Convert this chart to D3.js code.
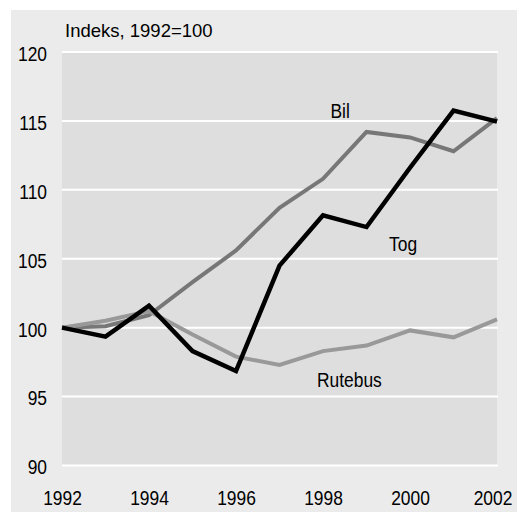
<!DOCTYPE html>
<html><head><meta charset="utf-8">
<script src="https://cdn.jsdelivr.net/npm/d3@7"></script>
<style>body{margin:0;background:#fff;} svg{display:block;}</style>
</head><body>
<script>
const years = [1992,1993,1994,1995,1996,1997,1998,1999,2000,2001,2002];
const bil = [100,100.1,100.9,103.3,105.6,108.7,110.8,114.2,113.8,112.8,115.2];
const rutebus = [100,100.5,101.2,99.5,97.9,97.3,98.3,98.7,99.8,99.3,100.6];
const tog = [100,99.35,101.6,98.3,96.85,104.5,108.15,107.3,111.6,115.75,114.95];
const yTicks = [90,95,100,105,110,115,120];
const xTicks = [1992,1994,1996,1998,2000,2002];
const yTitle = "Indeks, 1992=100";
const seriesNames = ["Bil","Tog","Rutebus"];

const W = 517, H = 512;
const font = "'Liberation Sans', Arial, sans-serif";
const condense = sel => sel.each(function(){
  const len = this.getComputedTextLength();
  d3.select(this).attr("textLength", len*0.87).attr("lengthAdjust","spacingAndGlyphs");
});
const svg = d3.select("body").append("svg").attr("width",W).attr("height",H);
svg.append("rect").attr("x",11).attr("y",10).attr("width",W-11).attr("height",H-10).attr("fill","#ebebeb");

const x = d3.scaleLinear().domain([1992,2002]).range([62,497]);
const y = d3.scaleLinear().domain([90,120]).range([465.5,52]);

svg.append("rect").attr("x",x(1992)).attr("y",y(120)).attr("width",x(2002)-x(1992)).attr("height",y(90)-y(120)).attr("fill","#dedede");

// gridlines
svg.append("g").selectAll("line").data(yTicks).join("line")
  .attr("x1",x(1992)).attr("x2",x(2002)+1).attr("y1",d=>y(d)).attr("y2",d=>y(d))
  .attr("stroke","#fff").attr("stroke-width",2);

// y axis labels
const yAxis = d3.axisLeft(y).tickValues(yTicks).tickSize(0).tickPadding(0).tickFormat(d3.format("d"));
const ga = svg.append("g").attr("transform","translate(47,2)").call(yAxis);
ga.select(".domain").remove();
ga.selectAll("text").attr("font-family",font).attr("font-size",20).attr("fill","#000").call(condense);

// x axis labels
const xAxis = d3.axisBottom(x).tickValues(xTicks).tickSize(0).tickPadding(0).tickFormat(d3.format("d"));
const gx = svg.append("g").attr("transform","translate(0,491)").call(xAxis);
gx.select(".domain").remove();
gx.selectAll("text").attr("font-family",font).attr("font-size",20).attr("fill","#000").call(condense)
  .attr("dx", d => d === 2002 ? -4.5 : 0);

svg.append("text").attr("x",65).attr("y",36.5).attr("font-family",font).attr("font-size",18.5).attr("fill","#000").text(yTitle);

const line = d3.line().x((d,i)=>x(years[i])).y(d=>y(d));
svg.append("path").datum(bil).attr("d",line).attr("fill","none").attr("stroke","#777").attr("stroke-width",4).attr("stroke-linejoin","miter");
svg.append("path").datum(rutebus).attr("d",line).attr("fill","none").attr("stroke","#999").attr("stroke-width",4).attr("stroke-linejoin","miter");
svg.append("path").datum(tog).attr("d",line).attr("fill","none").attr("stroke","#000").attr("stroke-width",4.5).attr("stroke-linejoin","miter");

const labs = [{t:seriesNames[0],x:330.5,y:118},{t:seriesNames[1],x:389,y:251},{t:seriesNames[2],x:317,y:387}];
svg.append("g").selectAll("text").data(labs).join("text")
  .attr("x",d=>d.x).attr("y",d=>d.y).attr("font-family",font).attr("font-size",20).attr("fill","#000").text(d=>d.t).call(condense);
</script>
</body></html>
